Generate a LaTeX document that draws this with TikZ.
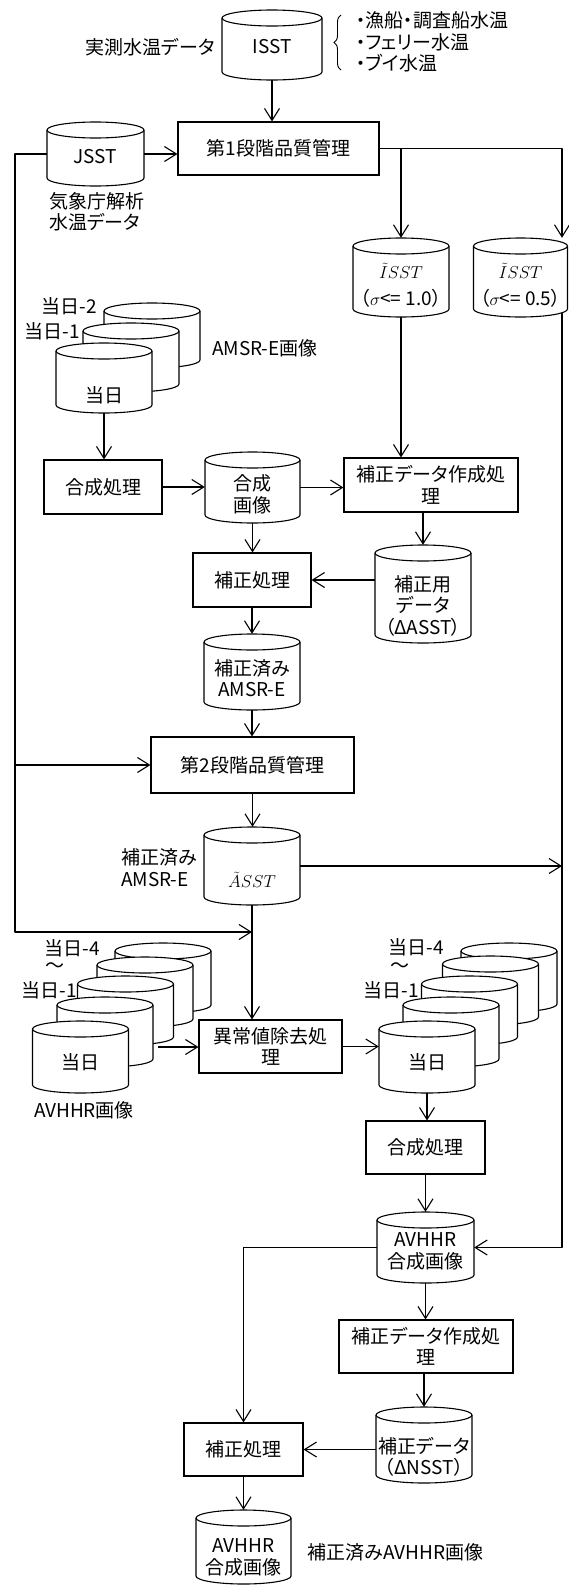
\documentclass[tikz,border=0pt]{standalone}
\usepackage{fontspec}
\setmainfont{Noto Sans CJK JP}[RawFeature=+palt]
\usetikzlibrary{arrows.meta,decorations.pathreplacing}
\tikzset{
 ln/.style={line width=1.1pt, line join=round},
 arr/.style={ln, -{Straight Barb[length=12pt,width=15pt]}},
 box/.style={draw, line width=1.1pt, inner sep=0pt, fill=white},
 txt/.style={inner sep=0pt, align=center, font=\fontsize{19}{21.5}\selectfont},
 cylline/.style={draw, line width=1.1pt, fill=white},
}
% name, cx, top, bottom, half width, text y, text
\newcommand\cylnode[7]{%
  \draw[cylline] (#2-#5,#3+8) -- (#2-#5,#4-8)
     arc[start angle=180,end angle=360,x radius=#5pt,y radius=8pt]
     -- (#2+#5,#3+8)
     arc[start angle=0,end angle=180,x radius=#5pt,y radius=8pt] -- cycle;
  \draw[cylline] (#2-#5,#3+8) arc[start angle=180,end angle=360,x radius=#5pt,y radius=8pt];
  \node[inner sep=0pt, minimum width=2*#5pt, minimum height=(#4-#3)*1pt] (#1) at (#2,{(#3+#4)/2}) {};
  \node[txt] (#1-t) at (#2,#6) {#7};
}
\newcommand\mytisst{{\fontsize{16.5}{16.5}\selectfont$\tilde{I}SST$}}
\newcommand\mytasst{{\fontsize{16.5}{16.5}\selectfont$\tilde{A}SST$}}
\begin{document}
\begin{tikzpicture}[x=1pt,y=-1pt]
\useasboundingbox (0,0) rectangle (569,1585);
\coordinate (rx) at (562,0);
\coordinate (lx) at (15,0);
% ---- top
\node[txt] (jissoku) at (150,47) {実測水温データ};
\cylnode{isst}{272}{10}{80}{50}{47}{ISST}
\draw[line width=0.9pt, decorate, decoration={brace,amplitude=7pt}] (341,70) -- (341,15);
\node[txt, align=left, anchor=west] (bullets) at (356,42) {・漁船・調査船水温\\・フェリー水温\\・ブイ水温};
\node[box, txt, minimum width=201pt, minimum height=53pt] (q1) at (278.5,148.5) {第1段階品質管理};
\draw[arr] (isst.south) -- (isst.south |- q1.north);
\cylnode{jsst}{95.5}{122}{186}{48.5}{157}{JSST}
\draw[arr] (jsst.east) -- (jsst.east -| q1.west);
\node[txt, align=left, anchor=west] (kisho) at (49,211.5) {気象庁解析\\水温データ};
% ---- ISST filtered
\cylnode{s10}{401}{238}{317}{48}{271}{\mytisst}
\node[txt] (s10b) at (401,298) {（$\sigma$<= 1.0）};
\cylnode{s05}{520.5}{238}{317}{47}{271}{\mytisst}
\node[txt] (s05b) at (520.5,298) {（$\sigma$<= 0.5）};
\draw[arr] (q1.east) -- (q1.east -| rx) -- (rx |- s05.north);
\draw[arr] (q1.east -| s10.north) -- (s10.north);
% ---- AMSR-E stack
\cylnode{am2}{152}{303}{368}{48}{335}{}
\cylnode{am1}{131}{323}{392}{48}{357}{}
\cylnode{am0}{104}{343}{413}{48}{395}{当日}
\node[txt, anchor=east] (am2l) at (97,306) {当日-2};
\node[txt, anchor=east] (am1l) at (80,331) {当日-1};
\node[txt, anchor=west] (aml) at (212,348) {AMSR-E画像};
\node[box, txt, minimum width=118pt, minimum height=54pt] (gs1) at (103,487) {合成処理};
\draw[arr] (am0.south) -- (am0.south |- gs1.north);
\cylnode{gz}{252.5}{452}{523}{47.5}{494.5}{合成\\画像}
\draw[arr] (gs1.east) -- (gs1.east -| gz.west);
\node[box, txt, minimum width=174pt, minimum height=54pt] (hd1) at (431,485) {補正データ作成処\\理};
\draw[arr] (gz.east) -- (gz.east -| hd1.west);
\draw[arr] (s10.south) -- (s10.south |- hd1.north);
\cylnode{hy}{423}{545}{643}{48}{605.5}{補正用\\データ\\（ΔASST）}
\draw[arr] (hy.north |- hd1.south) -- (hy.north);
\node[box, txt, minimum width=118pt, minimum height=54pt] (hs1) at (252,580) {補正処理};
\draw[arr] (gz.south) -- (gz.south |- hs1.north);
\draw[arr] (hy.west |- hs1.east) -- (hs1.east);
\cylnode{hz}{252}{634}{710}{48}{678}{補正済み\\AMSR-E}
\draw[arr] (hs1.south) -- (hs1.south |- hz.north);
\node[box, txt, minimum width=203pt, minimum height=56pt] (q2) at (252.5,765) {第2段階品質管理};
\draw[arr] (hz.south) -- (hz.south |- q2.north);
\cylnode{asst}{252}{827}{905}{48}{880}{\mytasst}
\node[txt, align=left, anchor=west] (asstl) at (121,867.5) {補正済み\\AMSR-E};
\draw[arr] (q2.south) -- (q2.south |- asst.north);
\draw[arr] (asst.east) -- (asst.east -| rx);
\coordinate (lj) at (252,932);
\draw[arr] (jsst.west) -- (jsst.west -| lx) -- (lx |- lj) -- (lj);
\draw[arr] (lx |- q2.west) -- (q2.west);
\node[box, txt, minimum width=143pt, minimum height=53pt] (ij) at (270.5,1046.5) {異常値除去処\\理};
\draw[arr] (asst.south) -- (asst.south |- ij.north);
% ---- left AVHRR stack
\cylnode{al4}{163}{943}{1013}{48}{978}{}
\cylnode{al3}{145}{957}{1027}{48}{992}{}
\cylnode{al2}{125.5}{976}{1045}{48}{1010}{}
\cylnode{al1}{105}{997}{1067}{48}{1032}{}
\cylnode{al0}{80.5}{1021}{1093}{48}{1062}{当日}
\node[txt] (al4l) at (72.5,948) {当日-4};
\node[txt, anchor=west] (alw) at (45,968) {～};
\node[txt] (al1l) at (49,990) {当日-1};
\node[txt] (avl) at (84,1110) {AVHHR画像};
\coordinate (ls) at (158,1047);
\draw[arr] (ls) -- (ls -| ij.west);
% ---- right AVHRR stack
\cylnode{ar4}{509}{943}{1012}{48}{978}{}
\cylnode{ar3}{490.5}{956}{1025}{48}{990}{}
\cylnode{ar2}{469.5}{976}{1045}{48}{1010}{}
\cylnode{ar1}{451}{997}{1067}{48}{1032}{}
\cylnode{ar0}{427}{1021}{1093}{48}{1062}{当日}
\node[txt] (ar4l) at (416.5,947) {当日-4};
\node[txt, anchor=west] (arw) at (390,968) {～};
\node[txt] (ar1l) at (391.5,990) {当日-1};
\draw[arr] (ij.east) -- (ij.east -| ar0.west);
\node[box, txt, minimum width=119pt, minimum height=53pt] (gs2) at (425.5,1147.5) {合成処理};
\draw[arr] (ar0.south) -- (ar0.south |- gs2.north);
\cylnode{avc}{425.5}{1212}{1283}{48.5}{1251.5}{AVHHR\\合成画像}
\draw[arr] (gs2.south) -- (gs2.south |- avc.north);
\coordinate (rb) at (562,313);
\draw[arr] (rb) -- (rx |- avc.east) -- (avc.east);
\node[box, txt, minimum width=174pt, minimum height=53pt] (hd2) at (426,1346.5) {補正データ作成処\\理};
\draw[arr] (avc.south) -- (avc.south |- hd2.north);
\cylnode{hd}{424}{1407}{1483}{48}{1457}{補正データ\\（ΔNSST）}
\draw[arr] (hd.north |- hd2.south) -- (hd.north);
\node[box, txt, minimum width=119pt, minimum height=53pt] (hs2) at (243.5,1449.5) {補正処理};
\draw[arr] (avc.west) -- (avc.west -| hs2.north) -- (hs2.north);
\draw[arr] (hd.west |- hs2.east) -- (hs2.east);
\cylnode{fin}{243.5}{1510}{1584}{47.5}{1557.5}{AVHHR\\合成画像}
\draw[arr] (hs2.south) -- (hs2.south |- fin.north);
\node[txt] (finl) at (395.5,1552) {補正済みAVHHR画像};
\end{tikzpicture}
\end{document}
